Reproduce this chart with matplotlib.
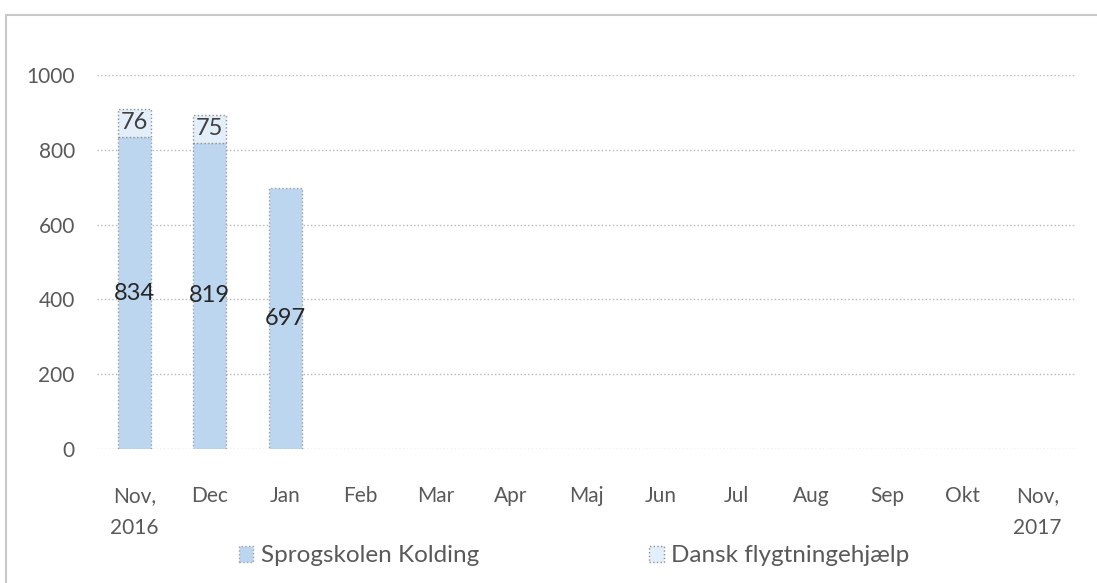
import matplotlib.pyplot as plt
import numpy as np
from matplotlib.patches import Rectangle

months = ['Nov,\n2016', 'Dec', 'Jan', 'Feb', 'Mar', 'Apr', 'Maj', 'Jun',
          'Jul', 'Aug', 'Sep', 'Okt', 'Nov,\n2017']
sprogskolen = [834, 819, 697, 0, 0, 0, 0, 0, 0, 0, 0, 0, 0]
dansk = [76, 75, 0, 0, 0, 0, 0, 0, 0, 0, 0, 0, 0]
series_names = ['Sprogskolen Kolding', 'Dansk flygtningehjælp']

plt.rcParams['font.family'] = ['Lato', 'DejaVu Sans']

fig = plt.figure(figsize=(10.97, 5.83), dpi=100)
ax = fig.add_axes([97 / 1097, 1 - 449 / 583, 978 / 1097, 374 / 583])

x = np.arange(len(months))
w = 0.44
s1 = np.array(sprogskolen, dtype=float)
s2 = np.array(dansk, dtype=float)
# empty months get no bar outline at all
h1 = np.where(s1 > 0, s1, np.nan)
h2 = np.where(s2 > 0, s2, np.nan)
b1 = ax.bar(x, h1, w, color='#bcd6f0', edgecolor='#a0a0a0',
            linewidth=1, linestyle=':', label=series_names[0])
b2 = ax.bar(x, h2, w, bottom=s1, color='#e2eefa', edgecolor='#909090',
            linewidth=1, linestyle=':', label=series_names[1])

# data labels, centered in each segment
for i in range(len(months)):
    if sprogskolen[i] > 0:
        ax.text(x[i], sprogskolen[i] / 2, str(sprogskolen[i]), ha='center', va='center',
                fontsize=17, color='#262626')
    if dansk[i] > 0:
        ax.text(x[i], sprogskolen[i] + dansk[i] / 2, str(dansk[i]), ha='center', va='center',
                fontsize=17, color='#404040')

ax.set_xlim(-0.5, len(months) - 0.5)
ax.set_ylim(0, 1000)
ax.set_yticks(range(0, 1001, 200))
ax.set_xticks(x)
ax.set_xticklabels(months, fontsize=15, color='#595959', linespacing=1.75)
ax.tick_params(axis='y', labelsize=15, labelcolor='#595959', length=0, pad=16)
ax.tick_params(axis='x', length=0, pad=27)
ax.grid(axis='y', color='#b8b8b8', linestyle=':', linewidth=1)
ax.set_axisbelow(True)
for s in ax.spines.values():
    s.set_visible(False)

fig.legend(handles=[b1, b2], loc='center', bbox_to_anchor=(574 / 1097, 1 - 556 / 583),
           ncol=2, frameon=False, fontsize=17.5, labelcolor='#595959',
           handlelength=0.6, handleheight=0.6, handletextpad=0.3, columnspacing=7.0)

# outer chart border
fig.add_artist(Rectangle((6 / 1097, -0.1), 1.2, 1 - 15 / 583 + 0.1,
                         transform=fig.transFigure, fill=False,
                         edgecolor='#c8c8c8', linewidth=1.5))

fig.savefig('out.png', dpi=100)
